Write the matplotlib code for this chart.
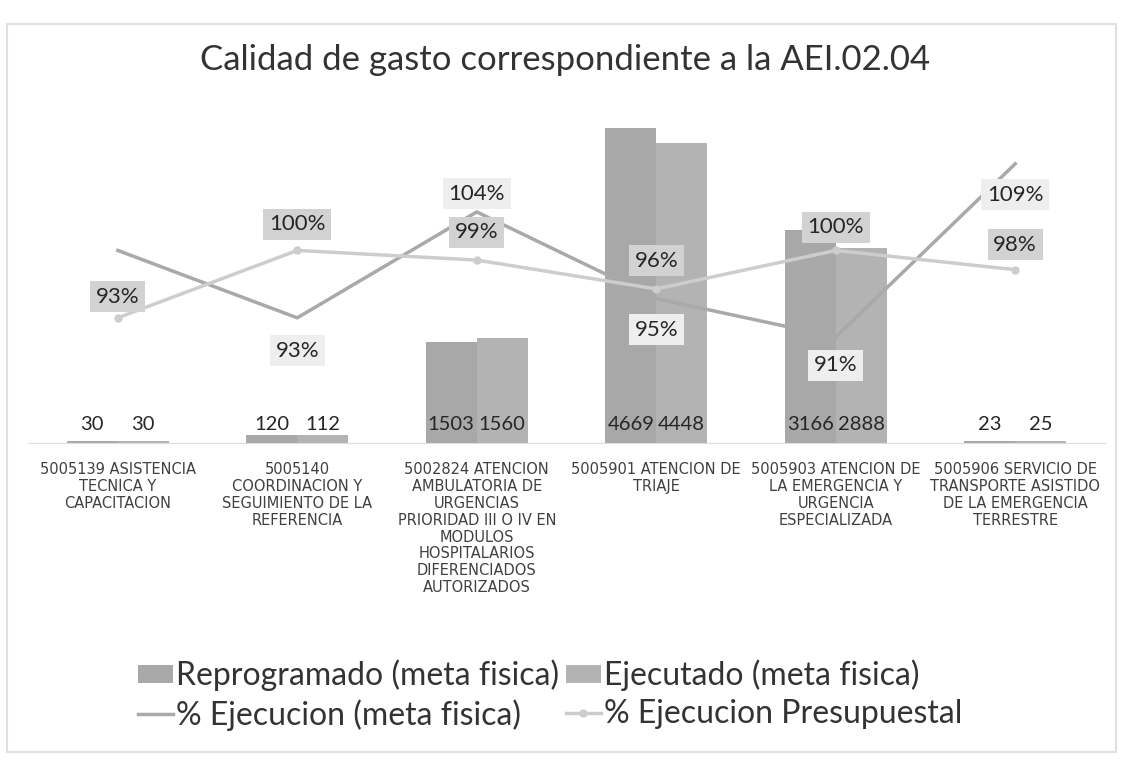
import matplotlib
matplotlib.use("Agg")
import matplotlib.pyplot as plt
from matplotlib.patches import Rectangle

plt.rcParams['font.family'] = ['Lato', 'DejaVu Sans']

categorias = [
    "5005139 ASISTENCIA\nTECNICA Y\nCAPACITACION",
    "5005140\nCOORDINACION Y\nSEGUIMIENTO DE LA\nREFERENCIA",
    "5002824 ATENCION\nAMBULATORIA DE\nURGENCIAS\nPRIORIDAD III O IV EN\nMODULOS\nHOSPITALARIOS\nDIFERENCIADOS\nAUTORIZADOS",
    "5005901 ATENCION DE\nTRIAJE",
    "5005903 ATENCION DE\nLA EMERGENCIA Y\nURGENCIA\nESPECIALIZADA",
    "5005906 SERVICIO DE\nTRANSPORTE ASISTIDO\nDE LA EMERGENCIA\nTERRESTRE",
]
reprogramado = [30, 120, 1503, 4669, 3166, 23]
ejecutado = [30, 112, 1560, 4448, 2888, 25]
pct_meta = [100, 93, 104, 95, 91, 109]
pct_presup = [93, 100, 99, 96, 100, 98]

# label offsets (pixels) for the % labels
# (first meta label is hidden behind the 93% one in the original)
off_meta = [None, -33, 18, -31, -28, -31]
off_presup = [21, 26, 28, 28, 23, 25]

fig = plt.figure(figsize=(11.23, 7.65), dpi=100)
fig.patches.append(Rectangle((7 / 1123, 1 - 752 / 765), 1109 / 1123, 728 / 765,
                             transform=fig.transFigure, fill=False,
                             edgecolor='#e0e0e0', lw=1.5))

ax = fig.add_axes([28 / 1123, 1 - 443 / 765, 1077 / 1123, 337 / 765])
x = list(range(len(categorias)))
w = 0.284
b1 = ax.bar([i - w / 2 for i in x], reprogramado, w, color='#a8a8a8',
            label='Reprogramado (meta fisica)')
b2 = ax.bar([i + w / 2 for i in x], ejecutado, w, color='#b3b3b3',
            label='Ejecutado (meta fisica)')
ax.set_xlim(-0.5, 5.5)
ax.set_ylim(0, 5000)
ax.set_yticks([])
ax.set_xticks(x)
ax.set_xticklabels(categorias, fontsize=10.5, color='#404040', linespacing=1.15,
                   family=['Liberation Sans Narrow', 'DejaVu Sans'])
ax.tick_params(axis='x', length=0, pad=14)
for s in ['top', 'left', 'right']:
    ax.spines[s].set_visible(False)
ax.spines['bottom'].set_color('#dddddd')

for i in x:
    ax.annotate(str(reprogramado[i]), (i - w / 2, 0), xytext=(0, 10),
                textcoords='offset pixels', ha='center', va='bottom',
                fontsize=14.5, color='#262626')
    ax.annotate(str(ejecutado[i]), (i + w / 2, 0), xytext=(0, 10),
                textcoords='offset pixels', ha='center', va='bottom',
                fontsize=14.5, color='#262626')

ax2 = ax.twinx()
ax2.set_ylim(80, 115)
ax2.set_yticks([])
for s in ax2.spines.values():
    s.set_visible(False)
l1, = ax2.plot(x, pct_meta, color='#a9a9a9', lw=2.5,
               label='% Ejecucion (meta fisica)')
l2, = ax2.plot(x, pct_presup, color='#cdcdcd', lw=2.5, marker='o', markersize=5,
               label='% Ejecucion Presupuestal')

for i in x:
    if off_meta[i] is None:
        continue
    ax2.annotate(f"{pct_meta[i]}%", (i, pct_meta[i]), xytext=(0, off_meta[i]),
                 textcoords='offset pixels', ha='center', va='center',
                 fontsize=16, color='#262626',
                 bbox=dict(boxstyle='square,pad=0.25', fc='#eeeeee', ec='none'))
for i in x:
    ax2.annotate(f"{pct_presup[i]}%", (i, pct_presup[i]), xytext=(0, off_presup[i]),
                 textcoords='offset pixels', ha='center', va='center',
                 fontsize=16, color='#262626',
                 bbox=dict(boxstyle='square,pad=0.25', fc='#d2d2d2', ec='none'))

fig.text(0.503, 1 - 60 / 765, "Calidad de gasto correspondiente a la AEI.02.04",
         ha='center', va='center', fontsize=25, color='#333333')

fig.legend([b1, l1, b2, l2],
           ['Reprogramado (meta fisica)', '% Ejecucion (meta fisica)',
            'Ejecutado (meta fisica)', '% Ejecucion Presupuestal'],
           ncol=2, loc='center', bbox_to_anchor=(0.49, 1 - 695 / 765),
           frameon=False, fontsize=23, handlelength=1.1, handleheight=0.5,
           handletextpad=0.1, columnspacing=0.2, labelcolor='#333333',
           labelspacing=0.25, borderpad=0.1)

fig.savefig('out.png', dpi=100)
